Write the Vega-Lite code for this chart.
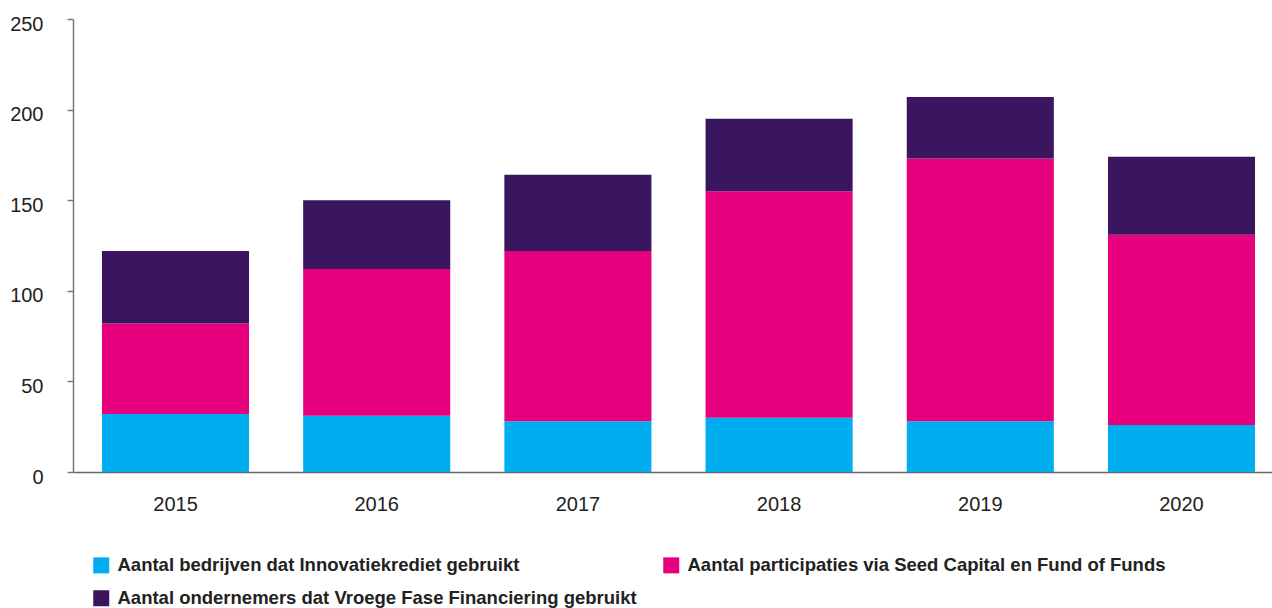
{
  "$schema": "https://vega.github.io/schema/vega-lite/v6.json",
  "autosize": "none",
  "width": 1211,
  "height": 453,
  "padding": {"left": 73, "top": 19, "right": 0, "bottom": 136},
  "background": "white",
  "config": {
    "view": {"stroke": null},
    "font": "Liberation Sans"
  },
  "data": {
    "values": [
      {"jaar": "2015", "reeks": "Aantal bedrijven dat Innovatiekrediet gebruikt", "o": 1, "waarde": 32},
      {"jaar": "2015", "reeks": "Aantal participaties via Seed Capital en Fund of Funds", "o": 2, "waarde": 50},
      {"jaar": "2015", "reeks": "Aantal ondernemers dat Vroege Fase Financiering gebruikt", "o": 3, "waarde": 40},
      {"jaar": "2016", "reeks": "Aantal bedrijven dat Innovatiekrediet gebruikt", "o": 1, "waarde": 31},
      {"jaar": "2016", "reeks": "Aantal participaties via Seed Capital en Fund of Funds", "o": 2, "waarde": 81},
      {"jaar": "2016", "reeks": "Aantal ondernemers dat Vroege Fase Financiering gebruikt", "o": 3, "waarde": 38},
      {"jaar": "2017", "reeks": "Aantal bedrijven dat Innovatiekrediet gebruikt", "o": 1, "waarde": 28},
      {"jaar": "2017", "reeks": "Aantal participaties via Seed Capital en Fund of Funds", "o": 2, "waarde": 94},
      {"jaar": "2017", "reeks": "Aantal ondernemers dat Vroege Fase Financiering gebruikt", "o": 3, "waarde": 42},
      {"jaar": "2018", "reeks": "Aantal bedrijven dat Innovatiekrediet gebruikt", "o": 1, "waarde": 30},
      {"jaar": "2018", "reeks": "Aantal participaties via Seed Capital en Fund of Funds", "o": 2, "waarde": 125},
      {"jaar": "2018", "reeks": "Aantal ondernemers dat Vroege Fase Financiering gebruikt", "o": 3, "waarde": 40},
      {"jaar": "2019", "reeks": "Aantal bedrijven dat Innovatiekrediet gebruikt", "o": 1, "waarde": 28},
      {"jaar": "2019", "reeks": "Aantal participaties via Seed Capital en Fund of Funds", "o": 2, "waarde": 145},
      {"jaar": "2019", "reeks": "Aantal ondernemers dat Vroege Fase Financiering gebruikt", "o": 3, "waarde": 34},
      {"jaar": "2020", "reeks": "Aantal bedrijven dat Innovatiekrediet gebruikt", "o": 1, "waarde": 26},
      {"jaar": "2020", "reeks": "Aantal participaties via Seed Capital en Fund of Funds", "o": 2, "waarde": 105},
      {"jaar": "2020", "reeks": "Aantal ondernemers dat Vroege Fase Financiering gebruikt", "o": 3, "waarde": 43}
    ]
  },
  "mark": {"type": "bar"},
  "encoding": {
    "x": {
      "field": "jaar",
      "type": "nominal",
      "scale": {"paddingInner": 0.269, "paddingOuter": 0.144},
      "axis": {
        "title": null,
        "labelAngle": 0,
        "labelFontSize": 20,
        "labelColor": "#222222",
        "labelPadding": 22,
        "ticks": false,
        "domainColor": "#666666",
        "domainWidth": 1.5
      }
    },
    "y": {
      "field": "waarde",
      "type": "quantitative",
      "stack": "zero",
      "scale": {"domain": [0, 250], "nice": false},
      "axis": {
        "title": null,
        "values": [0, 50, 100, 150, 200, 250],
        "grid": false,
        "labelFontSize": 20,
        "labelColor": "#222222",
        "labelPadding": 24,
        "labelOffset": 5,
        "tickSize": 6,
        "tickColor": "#777777",
        "domainColor": "#777777",
        "domainWidth": 1.5,
        "tickWidth": 1.5
      }
    },
    "order": {"field": "o", "type": "quantitative"},
    "color": {
      "field": "reeks",
      "type": "nominal",
      "sort": [
        "Aantal bedrijven dat Innovatiekrediet gebruikt",
        "Aantal participaties via Seed Capital en Fund of Funds",
        "Aantal ondernemers dat Vroege Fase Financiering gebruikt"
      ],
      "scale": {
        "domain": [
          "Aantal bedrijven dat Innovatiekrediet gebruikt",
          "Aantal participaties via Seed Capital en Fund of Funds",
          "Aantal ondernemers dat Vroege Fase Financiering gebruikt"
        ],
        "range": ["#00AEEF", "#E6007E", "#3A1560"]
      },
      "legend": {
        "title": null,
        "orient": "none",
        "legendX": 19,
        "legendY": 537,
        "direction": "horizontal",
        "columns": 2,
        "columnPadding": 25,
        "rowPadding": 14,
        "symbolType": "square",
        "symbolSize": 256,
        "symbolStrokeWidth": 0,
        "symbolOpacity": 1,
        "labelFontSize": 18.5,
        "labelFontWeight": "bold",
        "labelColor": "#222222",
        "labelOffset": 7,
        "labelLimit": 700
      }
    }
  }
}
